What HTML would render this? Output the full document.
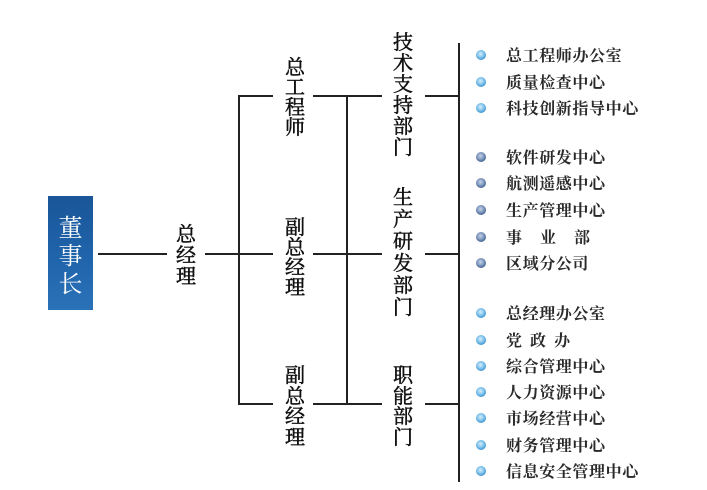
<!DOCTYPE html>
<html><head><meta charset="utf-8">
<style>
html,body{margin:0;padding:0;background:#fff;}
body{width:707px;height:490px;position:relative;overflow:hidden;}
.v{position:absolute;width:24px;text-align:center;font-family:"Liberation Serif","Noto Serif CJK SC",serif;font-size:20px;color:#111;-webkit-text-stroke:0.5px #111;}
.v span{display:block;}
.box{position:absolute;left:48px;top:196px;width:45px;height:114px;background:linear-gradient(180deg,#1a5598 0%,#1f63aa 50%,#2a72b8 100%);}
.bt{position:absolute;left:48px;width:45px;text-align:center;font-family:"Liberation Serif","Noto Serif CJK SC",serif;font-size:24px;line-height:28px;color:#fff;}
.li{position:absolute;left:506px;font-family:"Liberation Serif","Noto Serif CJK SC",serif;font-size:16px;line-height:20px;letter-spacing:0.6px;color:#2a2a2a;font-weight:bold;white-space:nowrap;}
</style></head><body>
<svg width="707" height="490" style="position:absolute;left:0;top:0">
<defs>
<radialGradient id="lb" cx="45%" cy="40%" r="60%"><stop offset="0" stop-color="#d8eefa"/><stop offset="0.6" stop-color="#7cc0ea"/><stop offset="1" stop-color="#3d93d0"/></radialGradient>
<radialGradient id="db" cx="45%" cy="40%" r="60%"><stop offset="0" stop-color="#c6d3e6"/><stop offset="0.6" stop-color="#7d96bd"/><stop offset="1" stop-color="#40608f"/></radialGradient>
</defs>
<g stroke="#222" stroke-width="2" fill="none">
<line x1="98" y1="254" x2="167" y2="254"/>
<line x1="205" y1="254" x2="273" y2="254"/>
<line x1="239" y1="96" x2="239" y2="404"/>
<line x1="238" y1="96" x2="273" y2="96"/>
<line x1="238" y1="404" x2="273" y2="404"/>
<line x1="313" y1="96" x2="382" y2="96"/>
<line x1="313" y1="254" x2="382" y2="254"/>
<line x1="313" y1="404" x2="382" y2="404"/>
<line x1="347" y1="96" x2="347" y2="404"/>
<line x1="425" y1="96" x2="459" y2="96"/>
<line x1="425" y1="254" x2="459" y2="254"/>
<line x1="425" y1="404" x2="459" y2="404"/>
<line x1="459" y1="43" x2="459" y2="482"/>
</g>
<g>
<circle cx="481" cy="55" r="5" fill="url(#lb)"/>
<circle cx="481" cy="82" r="5" fill="url(#lb)"/>
<circle cx="481" cy="108" r="5" fill="url(#lb)"/>
<circle cx="481" cy="157" r="5" fill="url(#db)"/>
<circle cx="481" cy="183" r="5" fill="url(#db)"/>
<circle cx="481" cy="210" r="5" fill="url(#db)"/>
<circle cx="481" cy="237" r="5" fill="url(#db)"/>
<circle cx="481" cy="263" r="5" fill="url(#db)"/>
<circle cx="481" cy="313" r="5" fill="url(#lb)"/>
<circle cx="481" cy="340" r="5" fill="url(#lb)"/>
<circle cx="481" cy="366" r="5" fill="url(#lb)"/>
<circle cx="481" cy="392" r="5" fill="url(#lb)"/>
<circle cx="481" cy="418" r="5" fill="url(#lb)"/>
<circle cx="481" cy="445" r="5" fill="url(#lb)"/>
<circle cx="481" cy="471" r="5" fill="url(#lb)"/>
</g>
</svg>

<div class="box"></div>
<div class="bt" style="top:215px"><span style="display:block">董</span><span style="display:block">事</span><span style="display:block">长</span></div>

<div class="v" style="left:174px;top:225px;line-height:21px"><span>总</span><span>经</span><span>理</span></div>

<div class="v" style="left:283px;top:58px;line-height:20px"><span>总</span><span>工</span><span>程</span><span>师</span></div>
<div class="v" style="left:283px;top:218px;line-height:20px"><span>副</span><span>总</span><span>经</span><span>理</span></div>
<div class="v" style="left:283px;top:366px;line-height:20.5px"><span>副</span><span>总</span><span>经</span><span>理</span></div>

<div class="v" style="left:391px;top:33px;line-height:21px"><span>技</span><span>术</span><span>支</span><span>持</span><span>部</span><span>门</span></div>
<div class="v" style="left:391px;top:187px;line-height:22px"><span>生</span><span>产</span><span>研</span><span>发</span><span>部</span><span>门</span></div>
<div class="v" style="left:391px;top:366px;line-height:20.5px"><span>职</span><span>能</span><span>部</span><span>门</span></div>

<div class="li" style="top:47px">总工程师办公室</div>
<div class="li" style="top:74px">质量检查中心</div>
<div class="li" style="top:100px">科技创新指导中心</div>
<div class="li" style="top:149px">软件研发中心</div>
<div class="li" style="top:175px">航测遥感中心</div>
<div class="li" style="top:202px">生产管理中心</div>
<div class="li" style="top:229px;letter-spacing:18px">事业部</div>
<div class="li" style="top:255px">区域分公司</div>
<div class="li" style="top:305px">总经理办公室</div>
<div class="li" style="top:332px;letter-spacing:8px">党政办</div>
<div class="li" style="top:358px">综合管理中心</div>
<div class="li" style="top:384px">人力资源中心</div>
<div class="li" style="top:410px">市场经营中心</div>
<div class="li" style="top:437px">财务管理中心</div>
<div class="li" style="top:463px">信息安全管理中心</div>
</body></html>
